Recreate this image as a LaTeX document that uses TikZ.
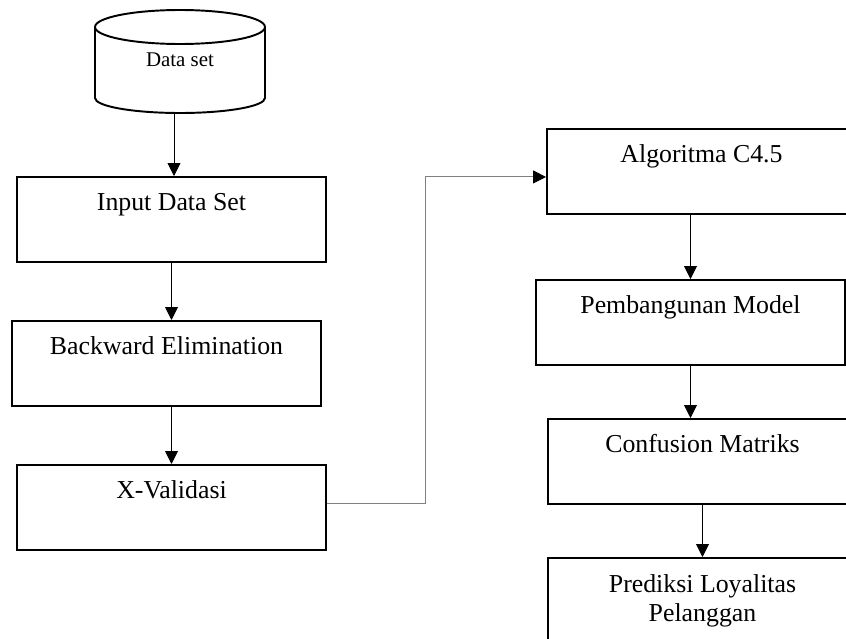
\documentclass[tikz,border=0pt]{standalone}
\usepackage{fontspec}
\setmainfont{Liberation Serif}
\usetikzlibrary{arrows.meta}

\tikzset{
  >={Triangle[length=0.26cm,width=0.26cm]},
  box/.style={draw, line width=1.1pt, anchor=north, inner sep=0pt,
    minimum width=6.18cm, font=\fontsize{14.7}{16.4}\selectfont},
  proc/.style={box, text height=0.68cm, text depth=1.02cm},
  flow/.style={->, line width=0.55pt},
}

\begin{document}
\begin{tikzpicture}[x=0.02cm, y=-0.02cm]
		\useasboundingbox (0,0) rectangle (846,639);
		\clip (0,0) rectangle (846,639);
		% data set (cylinder)
		\draw[line width=1.1pt] (95,27) -- (95,98) arc[start angle=180, end angle=0, x radius=85, y radius=15] -- (265,27);
		\draw[line width=1.1pt] (180,27) ellipse[x radius=85, y radius=17];
		\node (ds) at (180,60) {\fontsize{11.9}{14}\selectfont Data set};
		\coordinate (dsbot) at (174,113);
		% left column
		\node[proc] (inp) at (171.5,176) {Input Data Set};
		\node[proc] (back) at (166.5,320) {Backward Elimination};
		\node[proc] (xval) at (171.5,464) {X-Validasi};
		% right column
		\node[proc] (algo) at (701.5,128) {Algoritma C4.5};
		\node[proc] (pemb) at (690.5,279) {Pembangunan Model};
		\node[proc] (conf) at (702.5,418) {Confusion Matriks};
		\node[box, minimum height=1.7cm, align=center] (pred) at (702.5,557) {Prediksi Loyalitas\\Pelanggan};
		% arrows
		\draw[flow] (dsbot) -- (dsbot |- inp.north);
		\draw[flow] (inp.south) -- (inp.south |- back.north);
		\draw[flow] (xval.north |- back.south) -- (xval.north);
		\draw[flow] (algo.south -| pemb.north) -- (pemb.north);
		\draw[flow] (pemb.south) -- (pemb.south |- conf.north);
		\draw[flow] (conf.south) -- (conf.south |- pred.north);
		% x-validasi -> algoritma
		\coordinate (bend) at (425,0);
		\coordinate (xout) at ([yshift=0.07cm]xval.east);
		\coordinate (ain) at ([yshift=-0.11cm]algo.west);
		\draw[line width=0.55pt, draw=gray, -{Triangle[length=0.26cm,width=0.26cm,black]}] (xout) -| (bend |- ain) -- (ain);
	\end{tikzpicture}
\end{document}
